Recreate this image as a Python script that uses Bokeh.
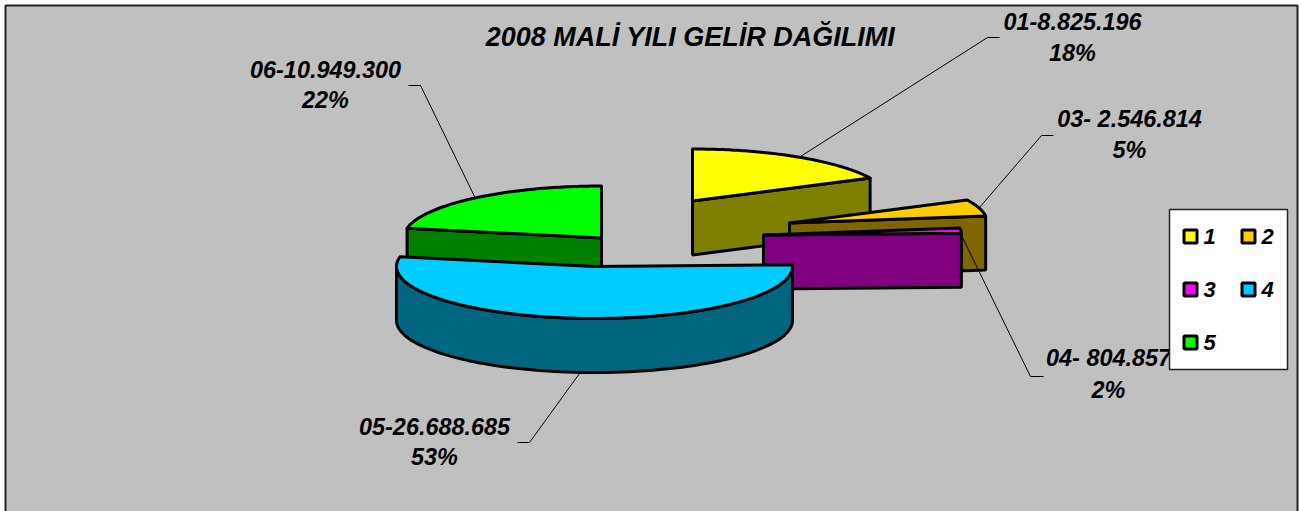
import numpy as np
from bokeh.plotting import figure
from bokeh.models import Range1d
from bokeh.core.properties import value
from bokeh.embed import file_html
from bokeh.resources import INLINE

# data
title = "2008 MALİ YILI GELİR DAĞILIMI"
values = [8825196, 2546814, 804857, 26688685, 10949300]
legend_names = ["1", "2", "3", "4", "5"]
label_line1 = ["01-8.825.196", "03- 2.546.814", "04- 804.857", "05-26.688.685", "06-10.949.300"]
label_line2 = ["18%", "5%", "2%", "53%", "22%"]

# styles
top_colors = ["#FFFF00", "#FFCC00", "#FF00FF", "#00CCFF", "#00FF00"]
side_colors = ["#808000", "#806600", "#800080", "#006680", "#008000"]
BG = "#C0C0C0"
FONT = value("Liberation Sans")
LW = 3

# layout (page pixels)
W, H = 1301, 511
A, B, DEPTH = 198.0, 52.0, 54.0
centers = [(692, 200.5), (789, 222.5), (763, 234.5), (594, 266), (601, 237.5)]
label_xy = [(1072, 21, 52), (1129, 118, 149), (1108, 357, 389), (434, 426, 456), (325, 69, 99)]
leaders = [
    ([800, 987, 999], [156, 37, 37]),
    ([979, 1041, 1053], [207, 135, 135]),
    ([960, 1030, 1043], [233, 376, 376]),
    ([579, 529, 517], [373, 442, 442]),
    ([475, 420, 408], [198, 85, 85]),
]

p = figure(width=W, height=H, x_range=Range1d(0, W), y_range=Range1d(H, 0),
           output_backend="svg", toolbar_location=None, min_border=0,
           background_fill_color="white", border_fill_color="white",
           outline_line_color=None, margin=0)
p.axis.visible = False
p.grid.visible = False

# chart area
p.quad(left=[5], right=[1297], top=[5], bottom=[530], fill_color=BG, line_color="#222222", line_width=2)

# slices
total = sum(values)
cum = np.cumsum([0] + values) / total * 2 * np.pi

def rim(cx, cy, a0, a1, dy=0.0, n=80):
    t = np.linspace(a0, a1, n)
    return cx + A * np.sin(t), cy - B * np.cos(t) + dy

def cut_face(i, angle):
    cx, cy = centers[i]
    ex, ey = rim(cx, cy, angle, angle, n=1)
    p.patch([cx, ex[0], ex[0], cx], [cy, ey[0], ey[0] + DEPTH, cy + DEPTH],
            fill_color=side_colors[i], line_color="black", line_width=LW)

def draw_slice(i):
    cx, cy = centers[i]
    a0, a1 = cum[i], cum[i + 1]
    if a0 > np.pi:
        cut_face(i, a0)
    if a1 <= np.pi:
        cut_face(i, a1)
    lo, hi = max(a0, np.pi / 2), min(a1, 1.5 * np.pi)
    if hi > lo:
        x0, y0 = rim(cx, cy, lo, hi)
        x1, y1 = rim(cx, cy, hi, lo, dy=DEPTH)
        p.patch(np.r_[x0, x1], np.r_[y0, y1], fill_color=side_colors[i],
                line_color="black", line_width=LW)
    x, y = rim(cx, cy, a0, a1)
    p.patch(np.r_[cx, x], np.r_[cy, y], fill_color=top_colors[i],
            line_color="black", line_width=LW, line_join="round")

for i in [0, 1, 2, 4, 3]:
    draw_slice(i)

for xs, ys in leaders:
    p.line(xs, ys, line_color="black", line_width=1)

# texts
p.text([690], [36], text=[title], text_font=FONT, text_font_style="bold italic",
       text_font_size="27px", text_align="center", text_baseline="middle", text_color="black")
for (x, y1, y2), t1, t2 in zip(label_xy, label_line1, label_line2):
    p.text([x, x], [y1, y2], text=[t1, t2], text_font=FONT, text_font_style="bold italic",
           text_font_size="23.4px", text_align="center", text_baseline="middle", text_color="black")

# legend box
p.quad(left=[1169], right=[1287], top=[209], bottom=[369], fill_color="white", line_color="#222222", line_width=1.5)
leg_x = [1190, 1248, 1190, 1248, 1190]
leg_y = [236, 236, 289, 289, 342]
p.rect(leg_x, leg_y, width=13, height=13, fill_color=top_colors, line_color="black", line_width=LW)
p.text([x + 13 for x in leg_x], leg_y, text=legend_names, text_font=FONT, text_font_style="bold italic",
       text_font_size="22px", text_align="left", text_baseline="middle", text_color="black")

open("out.html", "w").write(file_html(p, INLINE))
